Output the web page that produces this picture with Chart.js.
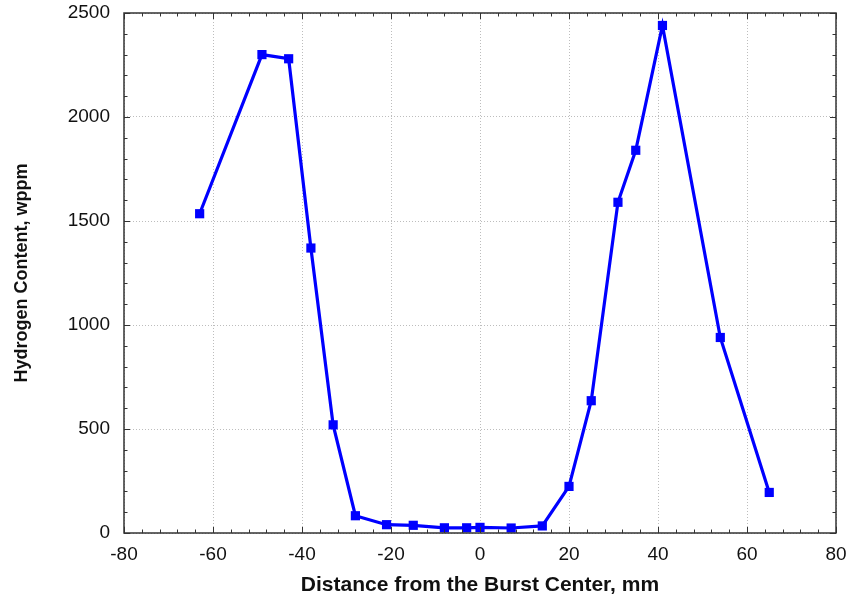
<!DOCTYPE html>
<html>
<head>
<meta charset="utf-8">
<script src="https://cdn.jsdelivr.net/npm/chart.js@4"></script>
<style>
  html, body { margin: 0; padding: 0; background: #fff; }
  #wrap { width: 854px; height: 605px; }
</style>
</head>
<body>
<div id="wrap"><canvas id="canvas"></canvas></div>
<script>
// values
const distance = [-63, -49, -43, -38, -33, -28, -21, -15, -8, -3, 0, 7, 14, 20, 25, 31, 35, 41, 54, 65];
const hydrogen = [1535, 2300, 2280, 1370, 520, 83, 40, 37, 25, 25, 27, 24, 34, 224, 636, 1590, 1840, 2440, 940, 195];

const xRange = [-80, 80];
const yRange = [0, 2500];
const xMajor = 20, xMinor = 4;
const yMajor = 500, yMinor = 100;

const xTitle = 'Distance from the Burst Center, mm';
const yTitle = 'Hydrogen Content, wppm';

const points = distance.map((d, i) => ({ x: d, y: hydrogen[i] }));

// frame + inward ticks on all four sides
const frameTicks = {
  id: 'frameTicks',
  afterDraw(chart) {
    const c = chart.ctx;
    const a = chart.chartArea;
    const xs = chart.scales.x, ys = chart.scales.y;
    c.save();
    c.strokeStyle = '#333';
    c.lineWidth = 1;
    for (let v = xRange[0]; v <= xRange[1]; v += xMinor) {
      const px = Math.round(xs.getPixelForValue(v)) + 0.5;
      const len = v % xMajor === 0 ? 6 : 3.5;
      c.beginPath();
      c.moveTo(px, a.bottom); c.lineTo(px, a.bottom - len);
      c.moveTo(px, a.top); c.lineTo(px, a.top + len);
      c.stroke();
    }
    for (let v = yRange[0]; v <= yRange[1]; v += yMinor) {
      const py = Math.round(ys.getPixelForValue(v)) + 0.5;
      const len = v % yMajor === 0 ? 6 : 3.5;
      c.beginPath();
      c.moveTo(a.left, py); c.lineTo(a.left + len, py);
      c.moveTo(a.right, py); c.lineTo(a.right - len, py);
      c.stroke();
    }
    c.lineWidth = 1.5;
    c.strokeStyle = '#333';
    c.strokeRect(a.left, a.top, a.right - a.left, a.bottom - a.top);
    c.restore();
  }
};

function noOverflow(s) {
  s.paddingTop = 0; s.paddingBottom = 0;
  s.paddingLeft = 0; s.paddingRight = 0;
}

new Chart(document.getElementById('canvas'), {
  type: 'line',
  data: {
    datasets: [{
      data: points,
      borderColor: '#0000ff',
      backgroundColor: '#0000ff',
      borderWidth: 3.2,
      pointStyle: 'rect',
      pointRadius: 6.5,
      pointBorderWidth: 0,
      tension: 0
    }]
  },
  options: {
    responsive: true,
    maintainAspectRatio: false,
    animation: false,
    layout: { padding: { top: 13, right: 18, left: 0, bottom: 0 } },
    plugins: { legend: { display: false }, tooltip: { enabled: false } },
    scales: {
      x: {
        type: 'linear',
        min: xRange[0], max: xRange[1],
        afterFit: s => { s.height = 72; noOverflow(s); },
        ticks: { stepSize: xMajor, color: '#111', padding: 10, maxRotation: 0,
                 callback: v => String(v),
                 font: { family: 'Liberation Sans', size: 19 } },
        grid: { color: '#bdbdbd', lineWidth: 1, drawTicks: false },
        border: { display: false, dash: [1, 2] },
        title: { display: true, text: xTitle, color: '#111',
                 font: { family: 'Liberation Sans', size: 21, weight: 'bold' },
                 padding: { top: 0, bottom: 7 } }
      },
      y: {
        min: yRange[0], max: yRange[1],
        afterFit: s => { s.width = 124; noOverflow(s); },
        ticks: { stepSize: yMajor, color: '#111', padding: 14,
                 callback: v => String(v),
                 font: { family: 'Liberation Sans', size: 19 } },
        grid: { color: '#bdbdbd', lineWidth: 1, drawTicks: false },
        border: { display: false, dash: [1, 2] },
        title: { display: true, text: yTitle, color: '#111',
                 font: { family: 'Liberation Sans', size: 18, weight: 'bold' },
                 padding: { top: 11, bottom: 0 } }
      }
    }
  },
  plugins: [frameTicks]
});
</script>
</body>
</html>
